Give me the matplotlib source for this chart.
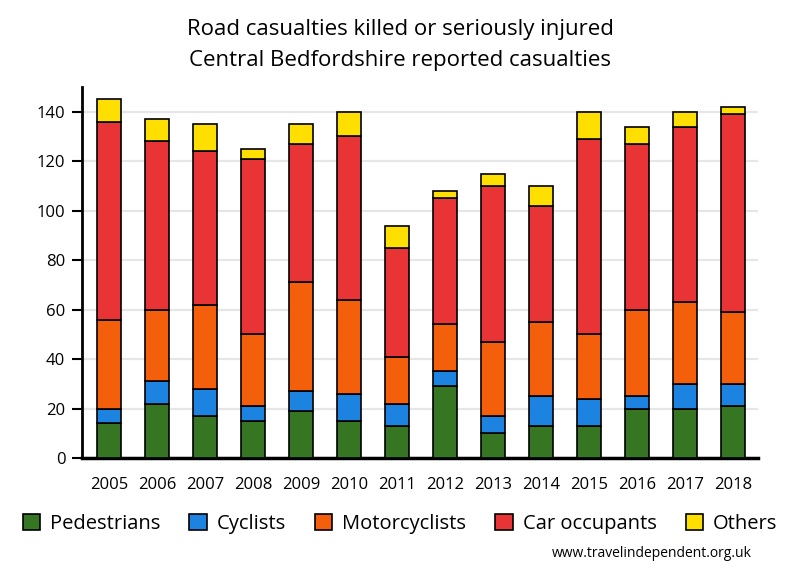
import numpy as np
import matplotlib
matplotlib.use('Agg')
import matplotlib.pyplot as plt

years = ['2005', '2006', '2007', '2008', '2009', '2010', '2011',
         '2012', '2013', '2014', '2015', '2016', '2017', '2018']
pedestrians = [14, 22, 17, 15, 19, 15, 13, 29, 10, 13, 13, 20, 20, 21]
cyclists = [6, 9, 11, 6, 8, 11, 9, 6, 7, 12, 11, 5, 10, 9]
motorcyclists = [36, 29, 34, 29, 44, 38, 19, 19, 30, 30, 26, 35, 33, 29]
car_occupants = [80, 68, 62, 71, 56, 66, 44, 51, 63, 47, 79, 67, 71, 80]
others = [9, 9, 11, 4, 8, 10, 9, 3, 5, 8, 11, 7, 6, 3]

series = [('Pedestrians', pedestrians, '#367623'),
          ('Cyclists', cyclists, '#1c83e0'),
          ('Motorcyclists', motorcyclists, '#f45f0c'),
          ('Car occupants', car_occupants, '#e83434'),
          ('Others', others, '#ffdf00')]

plt.rcParams['font.family'] = ['Open Sans', 'DejaVu Sans']

fig = plt.figure(figsize=(8, 5.8), dpi=100)
ax = fig.add_axes([0.1025, 0.2103, 0.845, 0.6397])

x = np.arange(len(years))
bottom = np.zeros(len(years))
handles = []
for name, vals, col in series:
    b = ax.bar(x, vals, width=0.5, bottom=bottom, color=col,
               edgecolor='black', linewidth=1.2, label=name, zorder=3)
    handles.append(b)
    bottom += np.array(vals)

ax.set_xlim(-0.57, 13.52)
ax.set_ylim(0, 150)
ax.set_yticks(range(0, 141, 20))
ax.set_xticks(x)
ax.set_xticklabels(years)
ax.yaxis.grid(True, color='#e6e6e6', linewidth=1.6, zorder=0)
ax.set_axisbelow(True)
for s in ['top', 'right']:
    ax.spines[s].set_visible(False)
ax.spines['left'].set_linewidth(2)
ax.spines['bottom'].set_linewidth(2.5)
ax.tick_params(axis='y', length=7, width=1.5, labelsize=12, pad=5)
ax.tick_params(axis='x', length=0, labelsize=12, pad=14)

fig.text(0.5, 0.95, 'Road casualties killed or seriously injured',
         ha='center', va='center', fontsize=16)
fig.text(0.5, 0.895, 'Central Bedfordshire reported casualties',
         ha='center', va='center', fontsize=16)

fig.legend(handles=handles, labels=[s[0] for s in series], loc='center',
           bbox_to_anchor=(0.5, 0.097), ncol=5, frameon=False,
           fontsize=14.5, handlelength=0.85, handleheight=0.85,
           handletextpad=0.5, columnspacing=1.45)

fig.text(0.94, 0.045, 'www.travelindependent.org.uk', ha='right',
         va='center', fontsize=10)

fig.savefig('out.png', dpi=100)
